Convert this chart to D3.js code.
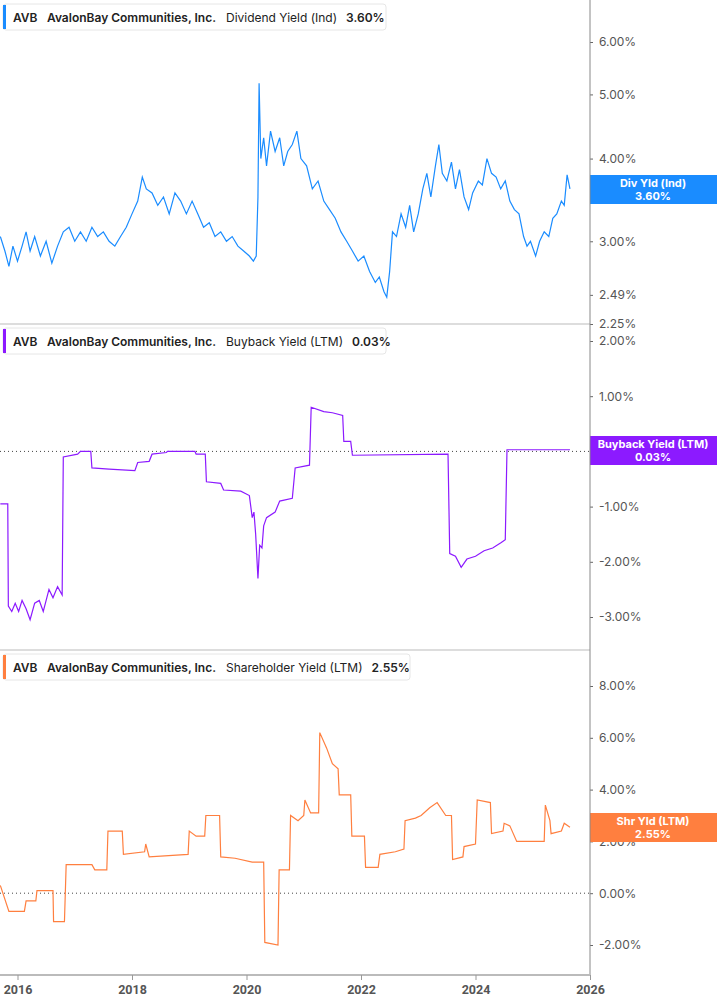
<!DOCTYPE html>
<html><head><meta charset="utf-8">
<script src="https://cdn.jsdelivr.net/npm/d3@7"></script>
<style>body{margin:0;background:#fff;font-family:Inter,"Noto Sans",sans-serif}</style>
</head><body><svg id="c" width="717" height="1005"></svg>
<script>
const yearTicks=[2016,2018,2020,2022,2024,2026];
const divTicks=[6,5,4,3,2.49,2.25];
const bbTicks=[2,1,-1,-2,-3];
const shTicks=[8,6,4,2,0,-2];
const divYield=[[2015.7,3.05],[2015.78,2.9],[2015.85,2.75],[2015.92,2.95],[2016.0,2.8],[2016.08,2.95],[2016.15,3.1],[2016.22,2.9],[2016.3,3.05],[2016.4,2.85],[2016.5,3.0],[2016.6,2.78],[2016.7,2.95],[2016.8,3.1],[2016.9,3.15],[2017.0,3.0],[2017.1,3.1],[2017.2,3.0],[2017.3,3.15],[2017.4,3.05],[2017.5,3.1],[2017.6,3.0],[2017.7,2.95],[2017.8,3.05],[2017.9,3.15],[2018.0,3.3],[2018.1,3.45],[2018.18,3.75],[2018.25,3.6],[2018.35,3.55],[2018.45,3.4],[2018.55,3.5],[2018.65,3.3],[2018.75,3.55],[2018.85,3.45],[2018.95,3.3],[2019.05,3.45],[2019.15,3.3],[2019.25,3.15],[2019.35,3.2],[2019.45,3.05],[2019.55,3.1],[2019.65,3.0],[2019.75,3.05],[2019.85,2.95],[2019.95,2.9],[2020.05,2.85],[2020.12,2.8],[2020.17,2.85],[2020.2,3.5],[2020.22,5.2],[2020.25,4.0],[2020.3,4.3],[2020.35,3.9],[2020.42,4.4],[2020.5,4.1],[2020.58,4.3],[2020.65,3.9],[2020.72,4.1],[2020.8,4.2],[2020.88,4.4],[2020.95,4.0],[2021.05,3.9],[2021.15,3.6],[2021.25,3.7],[2021.35,3.45],[2021.45,3.35],[2021.55,3.25],[2021.65,3.1],[2021.75,3.0],[2021.85,2.9],[2021.95,2.8],[2022.05,2.85],[2022.15,2.7],[2022.25,2.6],[2022.32,2.65],[2022.4,2.52],[2022.45,2.47],[2022.5,2.7],[2022.55,3.1],[2022.62,3.05],[2022.7,3.3],[2022.78,3.15],[2022.85,3.4],[2022.92,3.1],[2023.0,3.3],[2023.08,3.6],[2023.15,3.8],[2023.22,3.5],[2023.3,3.9],[2023.36,4.2],[2023.42,3.8],[2023.5,3.7],[2023.58,3.95],[2023.65,3.6],[2023.72,3.85],[2023.8,3.5],[2023.88,3.35],[2023.95,3.55],[2024.05,3.7],[2024.12,3.65],[2024.2,4.0],[2024.28,3.8],[2024.36,3.75],[2024.44,3.6],[2024.52,3.7],[2024.6,3.45],[2024.68,3.35],[2024.76,3.3],[2024.84,3.05],[2024.9,2.95],[2024.96,3.0],[2025.05,2.85],[2025.12,3.0],[2025.2,3.1],[2025.28,3.05],[2025.35,3.25],[2025.42,3.3],[2025.5,3.45],[2025.55,3.4],[2025.6,3.78],[2025.65,3.6]];
const buyback=[[2015.7,-0.95],[2015.83,-0.95],[2015.84,-2.8],[2015.9,-2.9],[2015.96,-2.75],[2016.02,-2.9],[2016.08,-2.7],[2016.15,-2.85],[2016.22,-3.05],[2016.3,-2.75],[2016.38,-2.7],[2016.45,-2.9],[2016.55,-2.5],[2016.62,-2.65],[2016.7,-2.45],[2016.78,-2.6],[2016.8,-0.1],[2017.05,-0.05],[2017.1,0.0],[2017.28,0.0],[2017.3,-0.3],[2017.6,-0.32],[2018.05,-0.35],[2018.1,-0.2],[2018.3,-0.18],[2018.35,-0.05],[2018.6,-0.02],[2018.62,0.0],[2019.1,0.0],[2019.12,-0.05],[2019.28,-0.05],[2019.3,-0.55],[2019.55,-0.58],[2019.6,-0.7],[2019.9,-0.72],[2020.05,-0.8],[2020.1,-1.2],[2020.13,-1.1],[2020.16,-1.5],[2020.2,-2.3],[2020.23,-1.7],[2020.27,-1.75],[2020.3,-1.35],[2020.35,-1.2],[2020.5,-1.1],[2020.58,-0.9],[2020.8,-0.85],[2020.85,-0.3],[2021.1,-0.25],[2021.13,0.8],[2021.35,0.72],[2021.5,0.7],[2021.68,0.65],[2021.7,0.18],[2021.82,0.18],[2021.85,-0.07],[2023.52,-0.05],[2023.55,-1.85],[2023.65,-1.9],[2023.75,-2.1],[2023.85,-1.95],[2024.0,-1.9],[2024.15,-1.8],[2024.3,-1.75],[2024.45,-1.65],[2024.52,-1.6],[2024.55,0.03],[2025.65,0.03]];
const shareholder=[[2015.7,0.3],[2015.85,-0.7],[2016.12,-0.7],[2016.15,-0.3],[2016.32,-0.3],[2016.34,0.1],[2016.62,0.1],[2016.63,-1.1],[2016.82,-1.1],[2016.85,1.1],[2017.3,1.1],[2017.35,0.9],[2017.56,0.9],[2017.58,2.4],[2017.83,2.4],[2017.85,1.5],[2018.22,1.6],[2018.24,1.9],[2018.3,1.4],[2018.98,1.5],[2019.0,2.4],[2019.12,2.2],[2019.27,2.2],[2019.29,3.0],[2019.53,3.0],[2019.55,1.4],[2019.8,1.35],[2020.1,1.2],[2020.3,1.2],[2020.32,-1.9],[2020.55,-2.0],[2020.57,0.9],[2020.75,0.9],[2020.77,3.0],[2020.9,2.8],[2021.0,3.0],[2021.02,3.6],[2021.12,3.1],[2021.26,3.1],[2021.28,6.2],[2021.4,5.6],[2021.5,5.0],[2021.6,4.8],[2021.62,3.8],[2021.82,3.8],[2021.84,2.2],[2022.06,2.2],[2022.08,1.0],[2022.3,1.0],[2022.33,1.5],[2022.6,1.6],[2022.75,1.7],[2022.77,2.8],[2022.95,2.9],[2023.05,3.0],[2023.2,3.3],[2023.33,3.5],[2023.48,3.0],[2023.58,3.0],[2023.6,1.3],[2023.78,1.4],[2023.8,1.8],[2024.0,1.9],[2024.03,3.6],[2024.26,3.5],[2024.28,2.3],[2024.48,2.4],[2024.5,2.7],[2024.6,2.6],[2024.72,2.0],[2025.2,2.0],[2025.22,3.4],[2025.3,2.8],[2025.32,2.3],[2025.5,2.4],[2025.55,2.7],[2025.65,2.55]];

const svg=d3.select("#c");
const AX=590;
const x=d3.scaleLinear().domain([2016,2026]).range([17.5,AX]);
const panels=[
 {top:0,y:d3.scaleLog().domain([2.25,6]).range([324,42]),ticks:divTicks,data:divYield,color:"#1a8cff",
  title:"Dividend Yield (Ind)",val:"3.60%",lab1:"Div Yld (Ind)",lab2:"3.60%",labY:175,legW:383,zero:false},
 {top:324,y:d3.scaleLinear().domain([-3,2]).range([617,341]),ticks:bbTicks,data:buyback,color:"#8c1aff",
  title:"Buyback Yield (LTM)",val:"0.03%",lab1:"Buyback Yield (LTM)",lab2:"0.03%",labY:436,legW:383,zero:true},
 {top:650,y:d3.scaleLinear().domain([-2,8]).range([945,686]),ticks:shTicks,data:shareholder,color:"#ff7f3f",
  title:"Shareholder Yield (LTM)",val:"2.55%",lab1:"Shr Yld (LTM)",lab2:"2.55%",labY:813,legW:407,zero:true}
];
const fmt=v=>v.toFixed(2)+"%";
panels.forEach((p,i)=>{
  const g=svg.append("g");
  if(i>0) g.append("line").attr("x1",0).attr("x2",AX).attr("y1",p.top).attr("y2",p.top).attr("stroke","#bbb");
  const ax=d3.axisRight(p.y).tickValues(p.ticks).tickFormat(fmt).tickSize(3).tickPadding(6);
  const ag=g.append("g").attr("transform",`translate(${AX},0)`).call(ax);
  ag.select(".domain").remove();
  ag.selectAll("text").attr("fill","#555").attr("font-size",12).attr("font-family","Inter,sans-serif");
  ag.selectAll("line").attr("stroke","#666");
  if(p.zero) g.append("line").attr("x1",0).attr("x2",AX).attr("y1",p.y(0)).attr("y2",p.y(0))
     .attr("stroke","#444").attr("stroke-dasharray","1,3");
  g.append("path").datum(p.data).attr("fill","none").attr("stroke",p.color).attr("stroke-width",1.2)
   .attr("d",d3.line().x(d=>x(d[0])).y(d=>p.y(d[1])));
  const lg=g.append("g").attr("transform",`translate(3,${p.top+4})`);
  lg.append("rect").attr("width",p.legW).attr("height",26).attr("rx",3).attr("fill","#fff").attr("stroke","#e6e6e6");
  lg.append("rect").attr("x",0).attr("y",1).attr("width",3).attr("height",24).attr("fill",p.color);
  const t=lg.append("text").attr("y",17.5).attr("font-size",12).attr("fill","#222").attr("font-family","Inter,sans-serif");
  t.append("tspan").attr("x",10).attr("font-weight",600).text("AVB");
  t.append("tspan").attr("x",44).attr("font-weight",600).text("AvalonBay Communities, Inc.");
  t.append("tspan").attr("dx",10).text(p.title);
  t.append("tspan").attr("dx",9).attr("font-weight",600).text(p.val);
  const lb=g.append("g").attr("transform",`translate(${AX},${p.labY})`);
  lb.append("rect").attr("width",127).attr("height",29).attr("fill",p.color);
  lb.append("text").attr("x",63).attr("y",12).attr("text-anchor","middle").attr("fill","#fff").attr("font-size",11).attr("font-weight",700).text(p.lab1);
  lb.append("text").attr("x",63).attr("y",25).attr("text-anchor","middle").attr("fill","#fff").attr("font-size",11).attr("font-weight",700).text(p.lab2);
});
svg.append("line").attr("x1",AX).attr("x2",AX).attr("y1",0).attr("y2",975).attr("stroke","#888");
const xg=svg.append("g").attr("transform","translate(0,975)").call(d3.axisBottom(x).tickValues(yearTicks).tickFormat(d3.format("d")).tickSize(5).tickPadding(5));
xg.select(".domain").attr("stroke","#bbb").attr("stroke-width",2).attr("d",`M0,0H${AX}`);
xg.selectAll("line").attr("stroke","#999");
xg.selectAll("text").attr("fill","#555").attr("font-size",12.5).attr("font-weight",700).attr("font-family","Roboto,sans-serif");
</script></body></html>
